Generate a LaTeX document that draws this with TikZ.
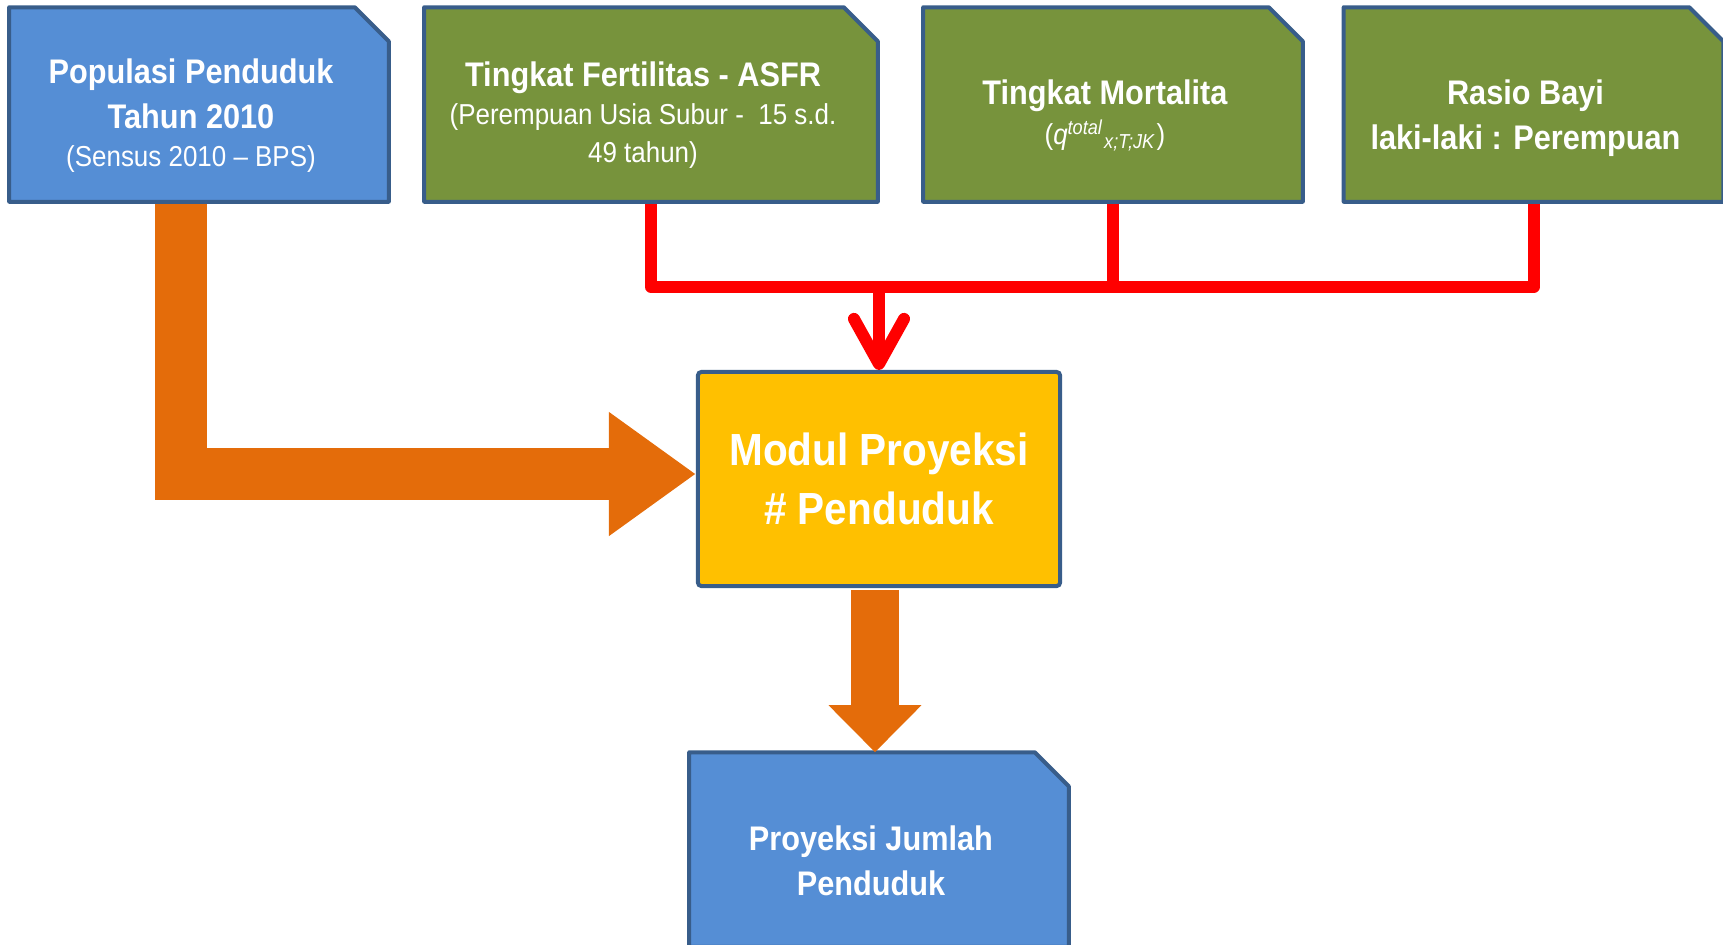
\documentclass[tikz,border=0pt]{standalone}
\usepackage{fontspec}
\setmainfont{Liberation Sans}[FakeStretch=0.9]
\usetikzlibrary{arrows.meta,backgrounds,calc}

\definecolor{boxblue}{RGB}{85,142,213}
\definecolor{rimblue}{RGB}{56,93,138}
\definecolor{leafgreen}{RGB}{119,147,60}
\definecolor{modulyellow}{RGB}{255,192,0}
\definecolor{arroworange}{RGB}{228,108,10}
\definecolor{redbus}{RGB}{255,0,0}
\newcommand\subtxt{\mdseries\fontsize{8.2}{10.8}\selectfont}

\begin{document}
\begin{tikzpicture}[x=0.01cm,y=-0.01cm,
    databox/.style={rectangle, minimum width=3.78cm, minimum height=1.93cm, inner sep=0pt},
    boxtext/.style={text=white, align=center, xshift=-0.08cm, yshift=-0.11cm,
        font=\bfseries\fontsize{9.7}{12.8}\selectfont},
    redline/.style={draw=redbus, line width=0.12cm, line join=round},
    fatarrow/.style={draw=arroworange, line join=miter}]
    \useasboundingbox (0,0) rectangle (1723,944);

    % input boxes
    \node[databox, label={[boxtext]center:{Populasi Penduduk\\Tahun 2010\\[-2pt]\subtxt (Sensus 2010 -- BPS)}}]
        (pop) at (199,104.5) {};
    \node[databox, minimum width=4.52cm,
        label={[boxtext]center:{Tingkat Fertilitas - ASFR\\[-2pt]\subtxt (Perempuan Usia Subur -\ \ 15 s.d.\\[-2pt]\subtxt 49 tahun)}}]
        (fert) at (651,104.5) {};
    \node[databox, label={[boxtext]center:{Tingkat Mortalita\\[-1.5pt]\subtxt (\textit{q}\textsuperscript{\textit{total}}\textsubscript{\textit{x;T;JK}})}}]
        (mortal) at (1113,104.5) {};
    \node[databox, label={[boxtext, yshift=-0.03cm]center:{Rasio Bayi\\laki-laki : Perempuan}}]
        (rasio) at (1533.5,104.5) {};

    % module and result
    \node[draw=rimblue, fill=modulyellow, line width=0.04cm, rounded corners=1pt,
        minimum width=3.62cm, minimum height=2.14cm, text=white, align=center,
        font=\bfseries\fontsize{12.8}{16.8}\selectfont] (modul) at (879,479) {Modul Proyeksi\\\# Penduduk};
    \node[databox, label={[boxtext]center:{Proyeksi Jumlah\\Penduduk}}] (proy) at (879,849.5) {};

    % box outlines with the cut corner
    \begin{scope}[on background layer]
    \foreach \b/\c in {pop/boxblue, fert/leafgreen, mortal/leafgreen, rasio/leafgreen, proy/boxblue}
        \filldraw[fill=\c, draw=rimblue, line width=0.04cm, line join=round]
            (\b.south west) -- (\b.north west) -- ([xshift=-0.34cm]\b.north east)
            -- ([yshift=-0.34cm]\b.north east) -- (\b.south east) -- cycle;
    \end{scope}

    % red bus from the green boxes
    \coordinate (bus) at ($(modul.north |- 0,287)$);
    \draw[redline] ([yshift=-0.02cm]fert.south) |- (bus) -| ([yshift=-0.02cm]rasio.south);
    \draw[redline] ([yshift=-0.02cm]mortal.south) -- (mortal.south |- bus);
    \draw[redline, -{Straight Barb[length=0.45cm, width=0.5cm, round]}] (bus) -- (modul.north);

    % orange block arrows
    \draw[fatarrow, line width=0.52cm, -{Triangle[length=0.87cm, width=1.18cm]}]
        ([xshift=-0.18cm, yshift=-0.02cm]pop.south) |- ([yshift=0.05cm]modul.west);
    \draw[fatarrow, line width=0.47cm, -{Triangle[length=0.47cm, width=0.9cm]}]
        ([xshift=-0.04cm, yshift=-0.02cm]modul.south) -- ([xshift=-0.04cm]proy.north);
\end{tikzpicture}
\end{document}
